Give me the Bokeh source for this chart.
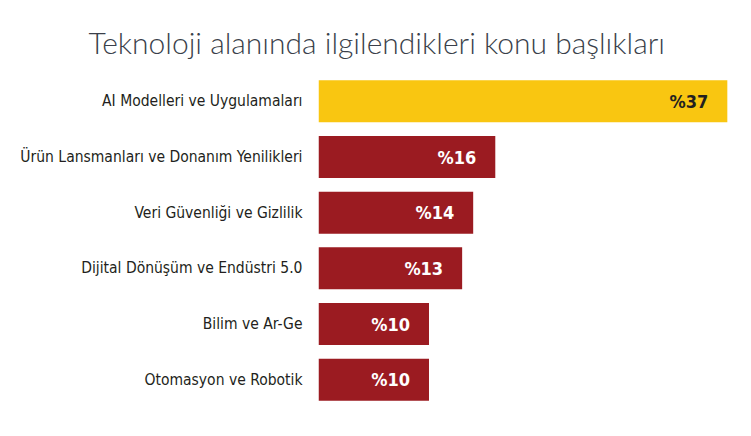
from bokeh.plotting import figure
from bokeh.models import ColumnDataSource
from bokeh.embed import file_html
from bokeh.resources import INLINE
from bokeh.core.properties import value

categories = [
    "AI Modelleri ve Uygulamaları",
    "Ürün Lansmanları ve Donanım Yenilikleri",
    "Veri Güvenliği ve Gizlilik",
    "Dijital Dönüşüm ve Endüstri 5.0",
    "Bilim ve Ar-Ge",
    "Otomasyon ve Robotik",
]
values = [37, 16, 14, 13, 10, 10]
value_labels = ["%37", "%16", "%14", "%13", "%10", "%10"]
bar_colors = ["#F9C611", "#9B1B21", "#9B1B21", "#9B1B21", "#9B1B21", "#9B1B21"]
label_colors = ["#231F20", "#FFFFFF", "#FFFFFF", "#FFFFFF", "#FFFFFF", "#FFFFFF"]
title_text = "Teknoloji alanında ilgilendikleri konu başlıkları"

COND = "DejaVu Sans Condensed"

src = ColumnDataSource(dict(cat=categories, val=values, lab=value_labels,
                            col=bar_colors, tcol=label_colors))

p = figure(width=735, height=420, output_backend="svg", toolbar_location=None,
           y_range=list(reversed(categories)), x_range=(0, 37.74),
           min_border_left=318, min_border_right=0, min_border_top=73, min_border_bottom=13)

p.hbar(y="cat", right="val", left=0, height=0.755, fill_color="col", line_color=None, source=src)
p.text(x="val", y="cat", text="lab", text_color="tcol", text_align="right", text_baseline="middle",
       x_offset=-19, text_font=value(COND), text_font_style="bold", text_font_size="18px", source=src)

p.xaxis.visible = False
p.xgrid.visible = False
p.ygrid.visible = False
p.outline_line_color = None
p.yaxis.axis_line_color = None
p.yaxis.major_tick_line_color = None
p.yaxis.minor_tick_line_color = None
p.yaxis.major_label_standoff = 10
p.yaxis.major_label_text_font = COND
p.yaxis.major_label_text_font_size = "15.5px"
p.yaxis.major_label_text_color = "#231F20"

p.title.text = title_text
p.title.align = "left"
p.title.offset = -230
p.title.text_font = "'Lato Light', Lato"
p.title.text_font_style = "normal"
p.title.text_font_size = "30px"
p.title.text_color = "#3A3F4A"
p.title.standoff = 28

open("out.html", "w").write(file_html(p, INLINE))
